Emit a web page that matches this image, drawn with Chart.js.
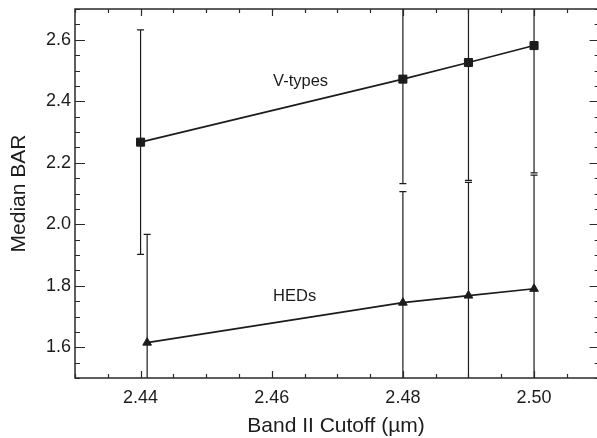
<!DOCTYPE html>
<html>
<head>
<meta charset="utf-8">
<script src="https://cdn.jsdelivr.net/npm/chart.js@4/dist/chart.umd.min.js"></script>
<style>
  html, body { margin: 0; padding: 0; background: #fff; }
  #wrap { width: 597px; height: 438px; }
</style>
</head>
<body>
<div id="wrap"><canvas id="barChart" width="597" height="438"></canvas></div>
<script>
// median band area ratio vs Band II cutoff wavelength
const vtypeCutoff = [2.44, 2.48, 2.49, 2.50];
const vtypeBar = [2.267, 2.472, 2.526, 2.581];
const vtypeErr = [0.365, 0.34, 0.383, 0.414];

const hedCutoff = [2.441, 2.48, 2.49, 2.50];
const hedBar = [1.615, 1.745, 1.768, 1.790];
const hedErr = [0.352, 0.361, 0.368, 0.37];

const xMajorTicks = [2.44, 2.46, 2.48, 2.50];
const yMajorTicks = [1.6, 1.8, 2.0, 2.2, 2.4, 2.6];
const xMinorStep = 0.005;
const yMinorStep = 0.05;

const FONT = "'Liberation Sans', Arial, Helvetica, sans-serif";
const INK = "#1c1c1c";

function toPoints(xs, ys) {
    return xs.map((x, i) => ({ x: x, y: ys[i] }));
}

// vertical error bars with small caps, clipped to the plot area
const errorBars = {
    id: "errorBars",
    beforeDatasetsDraw(chart) {
        let ctx = chart.ctx;
        let area = chart.chartArea;
        let xs = chart.scales.x, ys = chart.scales.y;
        ctx.save();
        ctx.beginPath();
        ctx.rect(area.left, area.top, area.right - area.left, area.bottom - area.top);
        ctx.clip();
        ctx.strokeStyle = INK;
        ctx.lineWidth = 1.2;
        chart.data.datasets.forEach(ds => {
            ds.data.forEach((p, i) => {
                let px = xs.getPixelForValue(p.x);
                let top = ys.getPixelForValue(p.y + ds.errors[i]);
                let bot = ys.getPixelForValue(p.y - ds.errors[i]);
                ctx.beginPath();
                ctx.moveTo(px, top);
                ctx.lineTo(px, bot);
                ctx.moveTo(px - 3.5, top);
                ctx.lineTo(px + 3.5, top);
                ctx.moveTo(px - 3.5, bot);
                ctx.lineTo(px + 3.5, bot);
                ctx.stroke();
            });
        });
        ctx.restore();
    }
};

// frame with inward major/minor ticks on all four sides, plus series names;
// the right axis sits just past the canvas edge, so only its ticks show
const frame = {
    id: "frame",
    afterDraw(chart) {
        let ctx = chart.ctx;
        let a = chart.chartArea;
        let xs = chart.scales.x, ys = chart.scales.y;
        let rightX = xs.getPixelForValue(2.51);
        ctx.save();
        ctx.strokeStyle = "#2a2a2a";
        ctx.lineWidth = 1.5;
        ctx.beginPath();
        ctx.moveTo(rightX, a.top);
        ctx.lineTo(a.left, a.top);
        ctx.lineTo(a.left, a.bottom);
        ctx.lineTo(rightX, a.bottom);
        ctx.stroke();

        ctx.lineWidth = 1.2;
        ctx.beginPath();
        for (let v = xs.min; v <= xs.max + 1e-9; v += xMinorStep) {
            let major = xMajorTicks.some(t => Math.abs(t - v) < 1e-6);
            let len = major ? 7 : 4;
            let px = Math.round(xs.getPixelForValue(v)) + 0.5;
            ctx.moveTo(px, a.bottom);
            ctx.lineTo(px, a.bottom - len);
            ctx.moveTo(px, a.top);
            ctx.lineTo(px, a.top + len);
        }
        for (let v = ys.min; v <= ys.max + 1e-9; v += yMinorStep) {
            let major = yMajorTicks.some(t => Math.abs(t - v) < 1e-6);
            let len = major ? 10 : 5;
            let py = Math.round(ys.getPixelForValue(v)) + 0.5;
            ctx.moveTo(a.left, py);
            ctx.lineTo(a.left + len, py);
            ctx.moveTo(rightX, py);
            ctx.lineTo(rightX - len, py);
        }
        ctx.stroke();

        ctx.fillStyle = INK;
        ctx.font = "16.5px " + FONT;
        ctx.textAlign = "left";
        ctx.textBaseline = "alphabetic";
        ctx.fillText("V-types", xs.getPixelForValue(2.4602), ys.getPixelForValue(2.449));
        ctx.fillText("HEDs", xs.getPixelForValue(2.4602), ys.getPixelForValue(1.749));
        ctx.restore();
    }
};

let ctx = document.getElementById("barChart").getContext("2d");

let chart = new Chart(ctx, {
    type: "scatter",
    data: {
        datasets: [
            {
                label: "V-types",
                data: toPoints(vtypeCutoff, vtypeBar),
                errors: vtypeErr,
                showLine: true,
                borderColor: INK,
                backgroundColor: INK,
                borderWidth: 1.6,
                pointStyle: "rect",
                pointRadius: 5.7,
                pointBorderWidth: 1
            },
            {
                label: "HEDs",
                data: toPoints(hedCutoff, hedBar),
                errors: hedErr,
                showLine: true,
                borderColor: INK,
                backgroundColor: INK,
                borderWidth: 1.6,
                pointStyle: "triangle",
                pointRadius: 5,
                pointBorderWidth: 1
            }
        ]
    },
    options: {
        responsive: false,
        animation: false,
        layout: { autoPadding: false, padding: { top: 9, right: 0, left: 0, bottom: 0 } },
        plugins: {
            legend: { display: false },
            tooltip: { enabled: false }
        },
        scales: {
            x: {
                type: "linear",
                min: 2.43,
                max: 2.5096,
                grid: { display: false, drawTicks: false },
                border: { display: false },
                afterBuildTicks: scale => {
                    scale.ticks = xMajorTicks.map(v => ({ value: v }));
                },
                afterFit: scale => { scale.height = 60; },
                ticks: {
                    autoSkip: false,
                    maxRotation: 0,
                    padding: 9,
                    color: INK,
                    font: { family: FONT, size: 18 },
                    callback: v => v.toFixed(2)
                },
                title: {
                    display: true,
                    text: "Band II Cutoff (µm)",
                    color: INK,
                    font: { family: FONT, size: 21, lineHeight: 1 },
                    padding: { top: 0, bottom: 1 }
                }
            },
            y: {
                type: "linear",
                min: 1.5,
                max: 2.7,
                grid: { display: false, drawTicks: false },
                border: { display: false },
                afterBuildTicks: scale => {
                    scale.ticks = yMajorTicks.map(v => ({ value: v }));
                },
                afterFit: scale => { scale.width = 75; },
                ticks: {
                    autoSkip: false,
                    padding: 4,
                    color: INK,
                    font: { family: FONT, size: 18, lineHeight: 0.4 },
                    callback: v => v.toFixed(1)
                },
                title: {
                    display: true,
                    text: "Median BAR",
                    color: INK,
                    font: { family: FONT, size: 21, lineHeight: 1 },
                    padding: { top: 9, bottom: 0 }
                }
            }
        }
    },
    plugins: [errorBars, frame]
});
</script>
</body>
</html>
